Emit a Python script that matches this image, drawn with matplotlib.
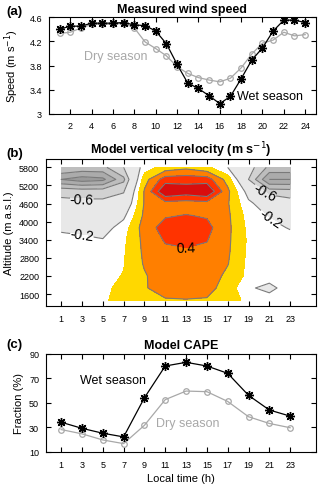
import numpy as np
import matplotlib
matplotlib.use("Agg")
import matplotlib.pyplot as plt
from matplotlib.ticker import FuncFormatter

plt.rcParams['font.family'] = ['Liberation Sans', 'DejaVu Sans']
plt.rcParams['contour.negative_linestyle'] = 'solid'

# (a) measured wind speed, hourly
hours_a = list(range(1, 25))
wind_wet = [4.40, 4.45, 4.45, 4.50, 4.50, 4.50, 4.51, 4.47, 4.46, 4.37, 4.16, 3.82,
            3.51, 3.42, 3.30, 3.17, 3.29, 3.58, 3.89, 4.09, 4.37, 4.55, 4.55, 4.51]
wind_dry = [4.33, 4.35, 4.42, 4.48, 4.48, 4.48, 4.50, 4.42, 4.19, 4.08, 3.96, 3.78,
            3.67, 3.60, 3.56, 3.53, 3.59, 3.76, 3.99, 4.17, 4.22, 4.35, 4.29, 4.31]

# (b) model vertical velocity (m/s), rows = altitude, cols = local time
hours_b = [1, 3, 5, 7, 9, 11, 13, 15, 17, 19, 21, 23]
alt_b = [1400, 1800, 2200, 2600, 3000, 3400, 3800, 4200, 4600, 5000, 5400, 5800]
w_1400 = [-0.05, -0.05, -0.04, 0.10, 0.16, 0.18, 0.19, 0.18, 0.14, -0.08, -0.05, -0.05]
w_1800 = [-0.05, -0.05, -0.04, 0.05, 0.18, 0.30, 0.32, 0.28, 0.10, -0.15, -0.30, -0.03]
w_2200 = [-0.05, -0.05, -0.06, 0.01, 0.18, 0.32, 0.34, 0.32, 0.15, -0.05, -0.05, -0.03]
w_2600 = [-0.06, -0.06, -0.08, -0.01, 0.22, 0.34, 0.36, 0.34, 0.21, -0.05, -0.05, -0.05]
w_3000 = [-0.08, -0.09, -0.11, -0.02, 0.24, 0.36, 0.38, 0.36, 0.23, -0.04, -0.06, -0.06]
w_3400 = [-0.12, -0.15, -0.19, -0.04, 0.26, 0.42, 0.44, 0.41, 0.24, -0.03, -0.08, -0.10]
w_3800 = [-0.25, -0.28, -0.30, -0.10, 0.30, 0.48, 0.50, 0.46, 0.25, -0.05, -0.12, -0.22]
w_4200 = [-0.40, -0.42, -0.42, -0.25, 0.25, 0.38, 0.41, 0.38, 0.24, -0.08, -0.22, -0.35]
w_4600 = [-0.55, -0.55, -0.55, -0.45, 0.22, 0.32, 0.30, 0.32, 0.22, -0.15, -0.35, -0.50]
w_5000 = [-0.65, -0.68, -0.68, -0.62, 0.22, 0.80, 0.72, 0.80, 0.25, -0.30, -0.70, -0.72]
w_5400 = [-1.20, -1.30, -1.25, -0.85, 0.12, 0.50, 0.52, 0.50, 0.12, -0.60, -1.20, -1.20]
w_5800 = [-0.80, -0.85, -0.85, -0.60, -0.10, 0.08, 0.15, 0.05, -0.20, -0.50, -0.85, -0.85]

# (c) model CAPE fraction (%)
hours_c = [1, 3, 5, 7, 9, 11, 13, 15, 17, 19, 21, 23]
cape_wet = [34, 29, 25, 22, 54, 80, 83, 80, 74, 56, 44, 39]
cape_dry = [28, 24.5, 19.5, 16.5, 31.5, 52.5, 59.5, 59, 51, 38.5, 33, 29.5]

W = np.array([w_1400, w_1800, w_2200, w_2600, w_3000, w_3400,
              w_3800, w_4200, w_4600, w_5000, w_5400, w_5800])

fig = plt.figure(figsize=(3.2, 4.89), dpi=100)
ax_a = fig.add_axes([0.153, 0.765, 0.834, 0.198])
ax_b = fig.add_axes([0.144, 0.372, 0.844, 0.301])
ax_c = fig.add_axes([0.144, 0.0745, 0.844, 0.200])

grey = '#a8a8a8'
star = (8, 2, 0)
tick_fs = 6.5

def style(ax):
    ax.tick_params(direction='in', top=True, right=True, length=3.5, width=0.8,
                   labelsize=tick_fs, pad=5)
    for s in ax.spines.values():
        s.set_linewidth(0.8)

def seasons(ax, x, wet, dry):
    ax.plot(x, dry, '-', color=grey, lw=0.9, marker='o', ms=4,
            mfc='none', mec=grey, mew=0.9)
    ax.plot(x, wet, '-', color='black', lw=0.9, marker=star, ms=6.5, mew=1)

# ---- (a)
seasons(ax_a, hours_a, wind_wet, wind_dry)
ax_a.set_xlim(0, 25)
ax_a.set_ylim(3, 4.6)
ax_a.set_xticks(range(2, 25, 2))
ax_a.set_yticks([3, 3.4, 3.8, 4.2, 4.6])
ax_a.yaxis.set_major_formatter(FuncFormatter(lambda v, p: '%g' % v))
style(ax_a)
ax_a.set_title('Measured wind speed', fontsize=9, fontweight='bold', pad=4)
ax_a.set_ylabel('Speed (m s$^{-1}$)', fontsize=8)
ax_a.yaxis.set_label_coords(-0.105, 0.5)
ax_a.text(3.3, 3.95, 'Dry season', color=grey, fontsize=9, va='center')
ax_a.text(17.6, 3.29, 'Wet season', color='black', fontsize=9, va='center')

# ---- (b)
fill_levels = [-2.0, -1.2, -1.0, -0.8, -0.6, -0.2, 0.0, 0.2, 0.4, 0.6, 1.2]
fill_colors = ['#9a9a9a', '#ababab', '#bdbdbd', '#d2d2d2', '#e8e8e8', 'white',
               '#ffd800', '#ff7f00', '#ff3300', '#d90d0d']
ax_b.contourf(hours_b, alt_b, W, levels=fill_levels, colors=fill_colors)
ax_b.contour(hours_b, alt_b, W, levels=[-1.2, -1.0, -0.8, 0.2, 0.6],
             colors='#7a7a7a', linewidths=0.8)
cs = ax_b.contour(hours_b, alt_b, W, levels=[-0.6, -0.2, 0.4],
                  colors='#7a7a7a', linewidths=0.8)
ax_b.clabel(cs, fontsize=10, fmt='%g', colors='black',
            inline=True, inline_spacing=2,
            manual=[(3, 4870), (3, 3560), (20.5, 4950), (21, 4050), (13, 3150)])
ax_b.set_xlim(-0.45, 25.5)
ax_b.set_ylim(1200, 6080)
ax_b.set_xticks(range(1, 24, 2))
ax_b.set_yticks(range(1600, 5801, 600))
style(ax_b)
ax_b.tick_params(axis='x', pad=6)
ax_b.set_title('Model vertical velocity (m s$^{-1}$)', fontsize=9,
               fontweight='bold', pad=4)
ax_b.set_ylabel('Altitude (m a.s.l.)', fontsize=8)
ax_b.yaxis.set_label_coords(-0.12, 0.5)

# ---- (c)
seasons(ax_c, hours_c, cape_wet, cape_dry)
ax_c.set_xlim(-0.45, 25.5)
ax_c.set_ylim(10, 90)
ax_c.set_xticks(hours_c)
ax_c.set_yticks([10, 30, 50, 70, 90])
style(ax_c)
ax_c.tick_params(axis='x', pad=6)
ax_c.set_title('Model CAPE', fontsize=9, fontweight='bold', pad=4)
ax_c.set_ylabel('Fraction (%)', fontsize=8)
ax_c.yaxis.set_label_coords(-0.083, 0.5)
ax_c.set_xlabel('Local time (h)', fontsize=8, labelpad=3)
ax_c.text(2.8, 68.6, 'Wet season', color='black', fontsize=9, va='center')
ax_c.text(10.1, 33.6, 'Dry season', color=grey, fontsize=9, va='center')

fig.text(0.02, 0.975, '(a)', fontsize=9.5, fontweight='bold', va='center')
fig.text(0.02, 0.685, '(b)', fontsize=9.5, fontweight='bold', va='center')
fig.text(0.02, 0.294, '(c)', fontsize=9.5, fontweight='bold', va='center')

fig.savefig('out.png', dpi=100)
